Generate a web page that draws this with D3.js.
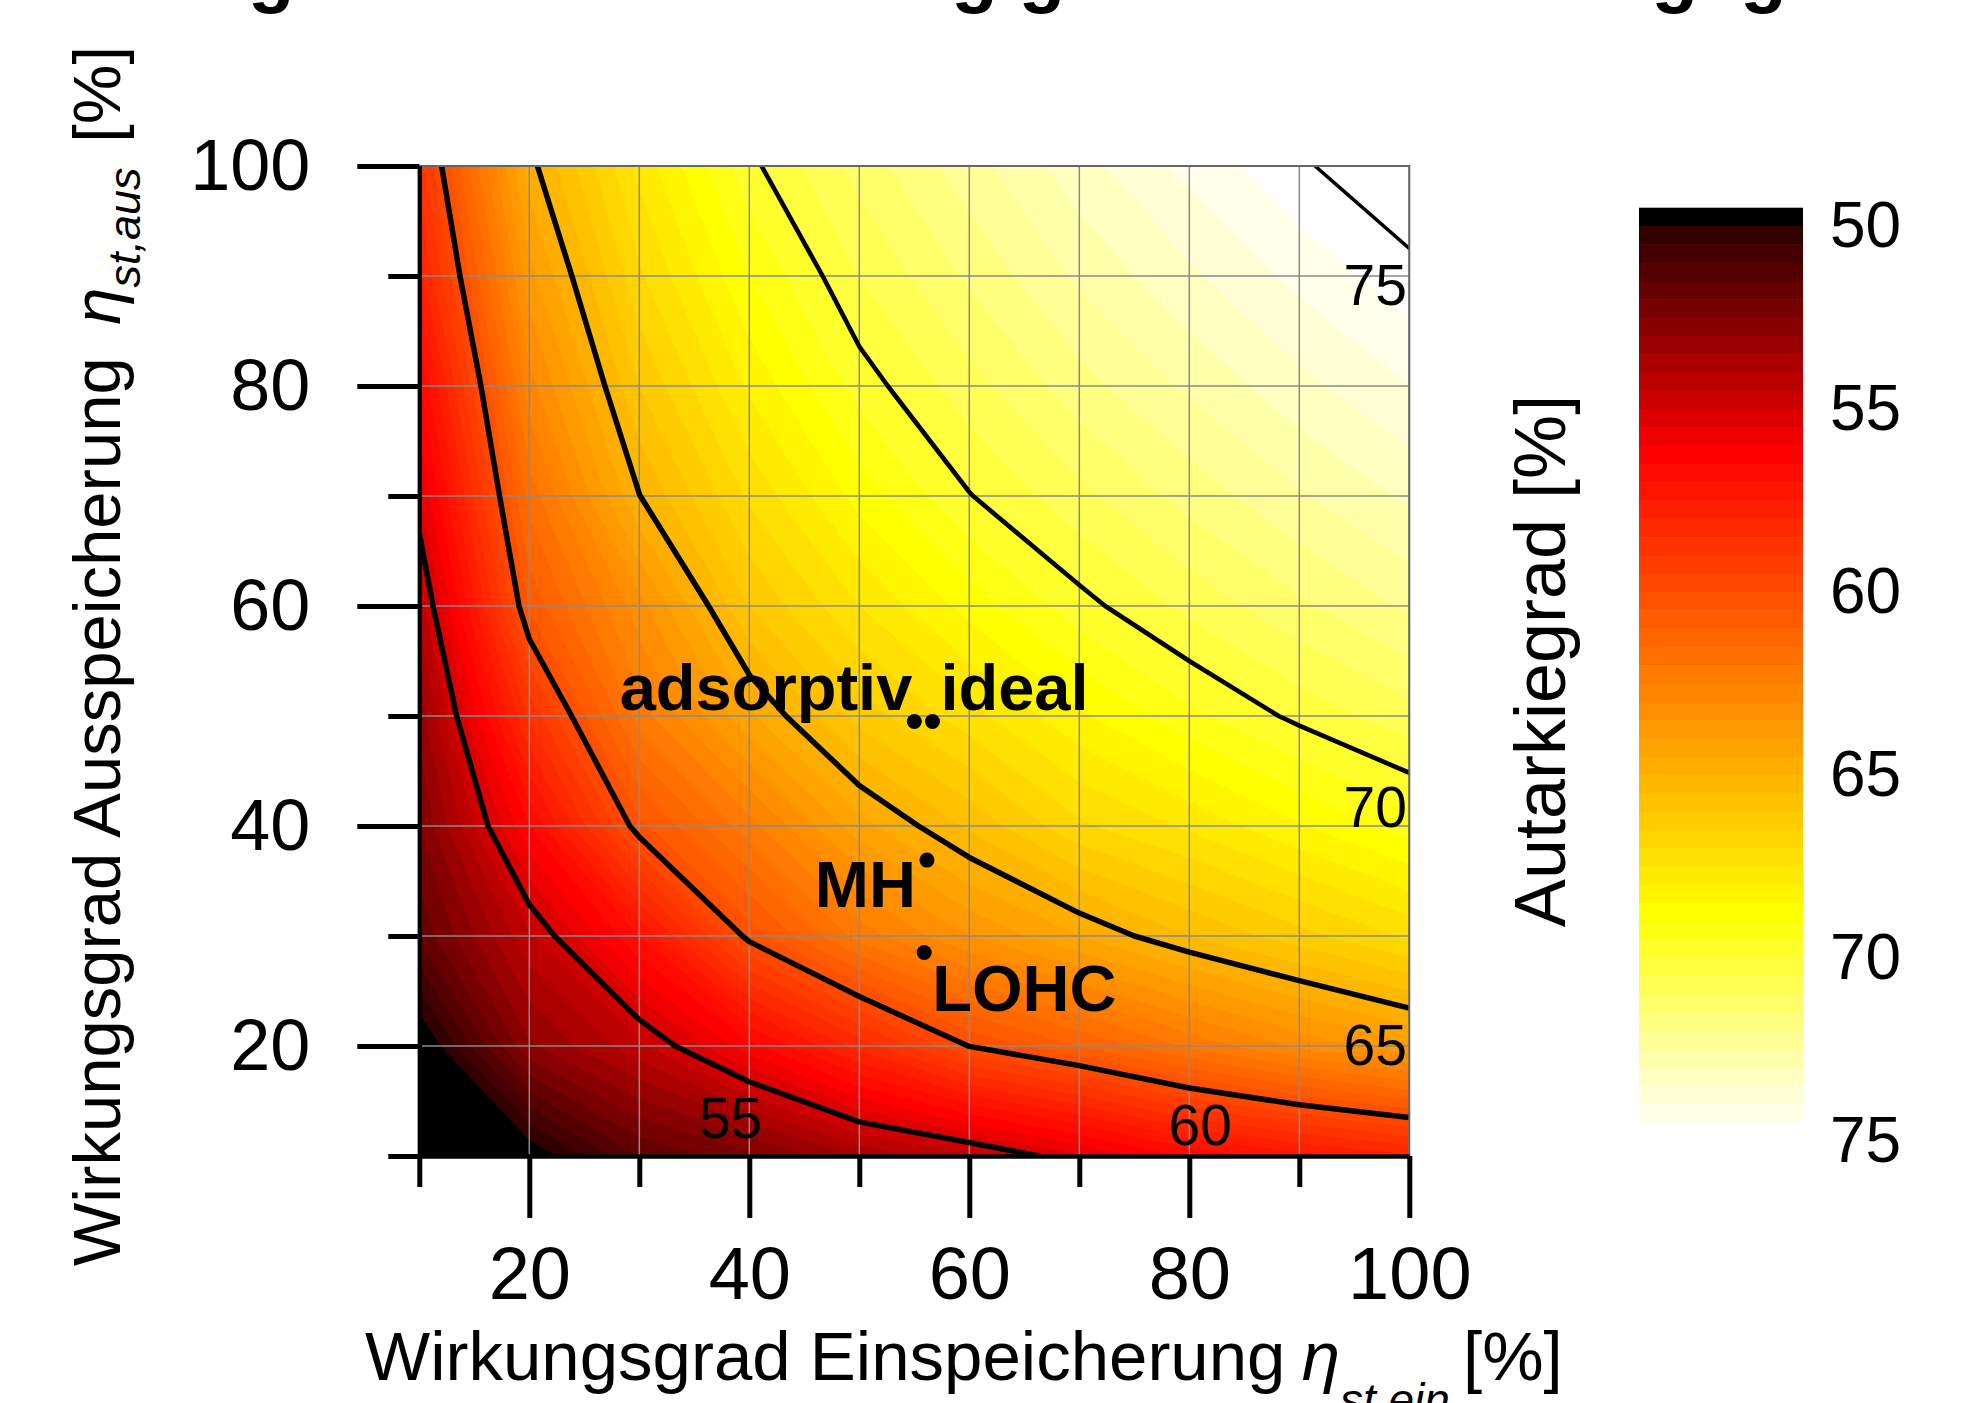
<!DOCTYPE html>
<html lang="de">
<head>
<meta charset="utf-8">
<title>Autarkiegrad</title>
<script src="https://d3js.org/d3.v7.min.js"></script>
<style>
  body { margin: 0; background: #fff; }
  text { font-family: "Liberation Sans", Arial, Helvetica, sans-serif; }
</style>
</head>
<body>
<div id="chart"></div>
<script>
// grid axes (efficiency of charging / discharging, %)
const etaEin = [10, 20, 30, 40, 50, 60, 70, 80, 90, 100];
const etaAus = [10, 20, 30, 40, 50, 60, 70, 80, 90, 100];

// Autarkiegrad [%], one row per etaAus value, columns follow etaEin
const autarkie = [
  [47.0, 49.5, 51.5, 52.3, 53.56, 54.3, 55.4, 56.6, 57.3, 57.9],
  [49.3, 52.9, 54.37, 56.3, 58.2, 60.02, 61.0, 62.1, 63.1, 63.9],
  [51.6, 54.4, 57.0, 60.2, 62.2, 63.5, 64.5, 65.5, 66.3, 67.1],
  [52.5, 56.5, 60.33, 62.3, 64.3, 65.6, 66.9, 67.6, 68.45, 69.25],
  [53.15, 58.6, 62.24, 64.4, 66.2, 67.3, 68.4, 69.35, 70.15, 70.8],
  [54.2, 60.6, 63.3, 66.0, 67.5, 68.7, 69.8, 70.65, 71.4, 72.1],
  [55.41, 61.7, 64.98, 67.1, 68.7, 69.97, 70.85, 71.7, 72.45, 73.1],
  [56.43, 62.8, 66.0, 68.1, 69.72, 70.8, 71.8, 72.6, 73.35, 74.0],
  [57.77, 63.8, 66.9, 69.0, 70.5, 71.6, 72.6, 73.4, 74.15, 74.8],
  [58.78, 64.79, 67.65, 69.85, 71.2, 72.3, 73.3, 74.15, 74.9, 75.6]
];

// contour lines and where their labels sit
const lineLevels = [55, 60, 65, 70, 75];
const labelEin = [38.3, 81.0, 96.9, 96.9, 96.9];
const labelAus = [11.6, 11.0, 18.3, 39.9, 87.4];

// storage technologies
const techNames = ["adsorptiv", "ideal", "MH", "LOHC"];
const techEin = [55.0, 56.65, 56.15, 55.9];
const techAus = [49.5, 49.5, 36.9, 28.5];

const majorTicks = [20, 40, 60, 80, 100];
const minorTicks = [10, 30, 50, 70, 90];
const keyTicks = [50, 55, 60, 65, 70, 75];

const W = 1966, H = 1403;
const svg = d3.select("#chart").append("svg")
  .attr("width", W).attr("height", H)
  .style("display", "block");

svg.append("rect").attr("width", W).attr("height", H).attr("fill", "#fff");

const x = d3.scaleLinear().domain([10, 100]).range([419.3, 1409.3]);
const y = d3.scaleLinear().domain([10, 100]).range([1156, 166]);

// black -> red -> yellow -> white, one colour per 0.5 band
const color = d3.scaleLinear()
  .domain([50.25, 56.25, 68.75, 74.75])
  .range(["rgb(51,0,0)", "#ff0000", "#ffff00", "#ffffff"])
  .clamp(true);

// grid index -> data coordinates (d3.contours puts value i at i + 0.5)
const step = etaEin[1] - etaEin[0];
const toPx = d3.geoTransform({
  point: function (cx, cy) {
    this.stream.point(x(etaEin[0] + step * (cx - 0.5)), y(etaAus[0] + step * (cy - 0.5)));
  }
});
const path = d3.geoPath(toPx);

const values = autarkie.flat();
const nx = etaEin.length, ny = etaAus.length;

svg.append("clipPath").attr("id", "plotClip")
  .append("rect")
  .attr("x", x(10)).attr("y", y(100))
  .attr("width", x(100) - x(10)).attr("height", y(10) - y(100));

const plot = svg.append("g").attr("clip-path", "url(#plotClip)");

// below 50 is black
plot.append("rect")
  .attr("x", x(10)).attr("y", y(100))
  .attr("width", x(100) - x(10)).attr("height", y(10) - y(100))
  .attr("fill", "#000");

const bands = d3.contours().size([nx, ny])
  .thresholds(d3.range(50, 75.01, 0.5))(values);

plot.selectAll("path.band")
  .data(bands)
  .enter().append("path")
  .attr("class", "band")
  .attr("d", path)
  .attr("fill", d => color(d.value + 0.25))
  .attr("stroke", d => color(d.value + 0.25))
  .attr("stroke-width", 0.6);

// grid
plot.selectAll("line.gx").data(etaEin).enter().append("line")
  .attr("x1", d => x(d)).attr("x2", d => x(d))
  .attr("y1", y(10)).attr("y2", y(100))
  .attr("stroke", "#8a8a8a").attr("stroke-width", 1.5);
plot.selectAll("line.gy").data(etaAus).enter().append("line")
  .attr("y1", d => y(d)).attr("y2", d => y(d))
  .attr("x1", x(10)).attr("x2", x(100))
  .attr("stroke", "#8a8a8a").attr("stroke-width", 1.5);

// contour lines
const lineWidth = { 55: 5.5, 60: 5.5, 65: 5.5, 70: 4.6, 75: 3.6 };
const lines = d3.contours().size([nx, ny]).thresholds(lineLevels)(values);
plot.selectAll("path.iso")
  .data(lines)
  .enter().append("path")
  .attr("class", "iso")
  .attr("d", path)
  .attr("fill", "none")
  .attr("stroke", "#000")
  .attr("stroke-width", d => lineWidth[d.value])
  .attr("stroke-linejoin", "round");

// box
svg.append("rect")
  .attr("x", x(10)).attr("y", y(100))
  .attr("width", x(100) - x(10)).attr("height", y(10) - y(100))
  .attr("fill", "none").attr("stroke", "#666").attr("stroke-width", 2);

// contour labels
svg.selectAll("text.clab")
  .data(lineLevels)
  .enter().append("text")
  .attr("class", "clab")
  .attr("x", (d, i) => x(labelEin[i]))
  .attr("y", (d, i) => y(labelAus[i]))
  .attr("text-anchor", "middle")
  .attr("font-size", 57)
  .text(d => d);

// axes
function styleAxis(g, size) {
  g.attr("font-size", size)
    .attr("font-family", '"Liberation Sans", Arial, sans-serif');
  g.selectAll(".tick line").attr("stroke", "#000").attr("stroke-width", 5);
  g.selectAll(".domain").attr("stroke", "#000").attr("stroke-width", 4);
  g.selectAll("text").attr("fill", "#000");
}

svg.append("g").attr("transform", `translate(0,${y(10)})`)
  .call(d3.axisBottom(x).tickValues(minorTicks).tickSize(31).tickSizeOuter(0).tickFormat(""))
  .call(g => styleAxis(g, 74));
svg.append("g").attr("transform", `translate(0,${y(10)})`)
  .call(d3.axisBottom(x).tickValues(majorTicks).tickSize(62).tickSizeOuter(0).tickPadding(28))
  .call(g => styleAxis(g, 74));

svg.append("g").attr("transform", `translate(${x(10)},0)`)
  .call(d3.axisLeft(y).tickValues(minorTicks).tickSize(31).tickSizeOuter(0).tickFormat(""))
  .call(g => styleAxis(g, 72));
svg.append("g").attr("transform", `translate(${x(10)},0)`)
  .call(d3.axisLeft(y).tickValues(majorTicks).tickSize(62).tickSizeOuter(0).tickPadding(47))
  .call(g => styleAxis(g, 72));

// technology points + labels
const tech = svg.append("g");
tech.selectAll("circle")
  .data(techNames)
  .enter().append("circle")
  .attr("cx", (d, i) => x(techEin[i]))
  .attr("cy", (d, i) => y(techAus[i]))
  .attr("r", 7.5)
  .attr("fill", "#000");

const labelStyle = {
  adsorptiv: { anchor: "end", dx: -2, dy: -12 },
  ideal: { anchor: "start", dx: 8, dy: -12 },
  MH: { anchor: "end", dx: -11, dy: 47 },
  LOHC: { anchor: "start", dx: 8, dy: 58 }
};
tech.selectAll("text")
  .data(techNames)
  .enter().append("text")
  .attr("x", (d, i) => x(techEin[i]) + labelStyle[d].dx)
  .attr("y", (d, i) => y(techAus[i]) + labelStyle[d].dy)
  .attr("text-anchor", d => labelStyle[d].anchor)
  .attr("font-size", 65)
  .attr("font-weight", "bold")
  .text(d => d);

// axis titles
const xt = svg.append("text")
  .attr("x", 365).attr("y", 1380)
  .attr("font-size", 69);
xt.append("tspan").text("Wirkungsgrad Einspeicherung ");
xt.append("tspan").attr("font-style", "italic").attr("dx", -3).text("η");
xt.append("tspan").attr("font-style", "italic").attr("font-size", 46).attr("dy", 36).text("st,ein");
xt.append("tspan").attr("dy", -36).attr("dx", -6).text(" [%]");

const yt = svg.append("text")
  .attr("transform", "translate(120,1266) rotate(-90)")
  .attr("font-size", 67);
yt.append("tspan").text("Wirkungsgrad Ausspeicherung ");
yt.append("tspan").attr("font-style", "italic").attr("dx", 14).text("η");
yt.append("tspan").attr("font-style", "italic").attr("font-size", 45).attr("dy", 20).text("st,aus");
yt.append("tspan").attr("dy", -20).attr("dx", 6).text(" [%]");

// colour key
const k = d3.scaleLinear().domain([49.5, 75]).range([207.7, 1141]);
const key = svg.append("g");
key.selectAll("rect")
  .data(d3.range(49.5, 75, 0.5))
  .enter().append("rect")
  .attr("x", 1639).attr("width", 164)
  .attr("y", d => k(d))
  .attr("height", d => k(d + 0.5) - k(d) + 0.6)
  .attr("fill", d => d < 50 ? "#000" : color(d + 0.25));

svg.append("g").attr("transform", "translate(1803,0)")
  .call(d3.axisRight(k).tickValues(keyTicks).tickSize(0).tickPadding(27))
  .call(g => {
    g.select(".domain").remove();
    g.attr("font-size", 64).attr("font-family", '"Liberation Sans", Arial, sans-serif');
    g.selectAll("text").attr("fill", "#000");
  });

svg.append("text")
  .attr("transform", "translate(1565,661) rotate(-90)")
  .attr("text-anchor", "middle")
  .attr("font-size", 72)
  .text("Autarkiegrad [%]");

// main title, mostly above the visible area
const title = svg.append("text")
  .attr("x", -56).attr("y", -2)
  .attr("font-size", 76)
  .attr("font-weight", "bold");
title.append("tspan").text("Autarkiegrad");
title.append("tspan").attr("dx", 195).text(" in Abhängigkeit vom Wirkungsgrad");
</script>
</body>
</html>
